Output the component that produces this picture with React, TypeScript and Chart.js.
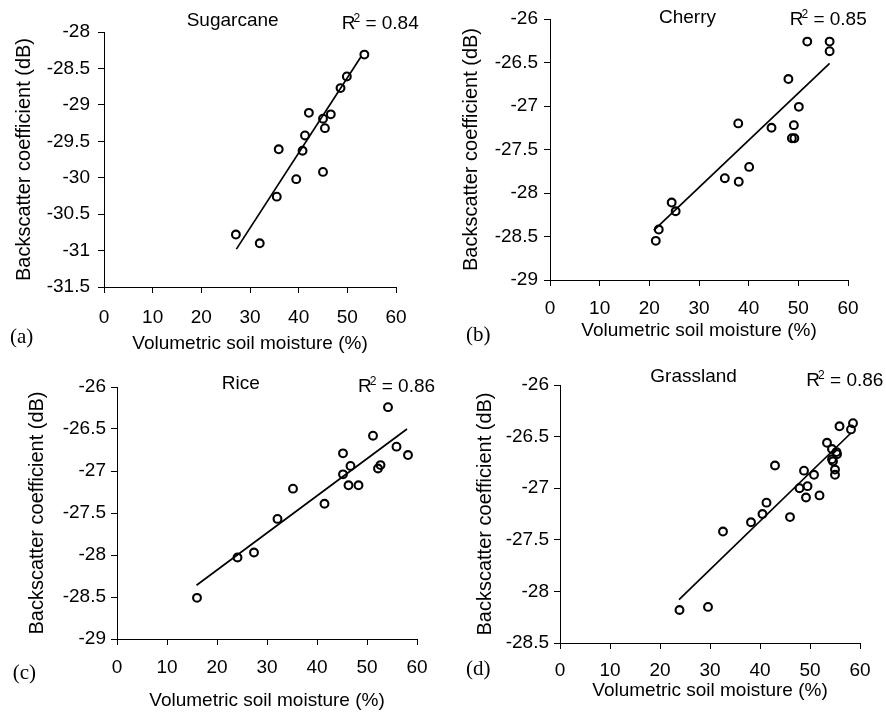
import React, { useEffect, useRef } from "react";
import { Chart, registerables } from "chart.js";

Chart.register(...registerables);

// ---------- data ----------
const sugarcaneX = [27.1, 32.0, 35.5, 35.9, 39.5, 40.8, 41.3, 42.1, 45.0, 45.4, 45.0, 46.6, 48.6, 49.9, 53.5];
const sugarcaneY = [-30.78, -30.9, -30.26, -29.61, -30.02, -29.63, -29.42, -29.11, -29.19, -29.32, -29.92, -29.13, -28.77, -28.61, -28.31];
const sugarcaneFitX = [27.2, 52.9];
const sugarcaneFitY = [-30.98, -28.33];

const cherryX = [21.3, 21.9, 24.5, 25.3, 35.2, 37.9, 38.0, 40.1, 44.6, 48.0, 48.7, 49.2, 49.1, 50.1, 51.8, 56.3, 56.3];
const cherryY = [-28.55, -28.42, -28.11, -28.21, -27.83, -27.2, -27.87, -27.7, -27.25, -26.69, -27.37, -27.37, -27.22, -27.01, -26.26, -26.26, -26.37];
const cherryFitX = [20.9, 56.3];
const cherryFitY = [-28.43, -26.51];

const riceX = [16.0, 24.1, 27.4, 32.1, 35.2, 41.5, 45.2, 45.2, 46.7, 46.3, 48.3, 51.2, 52.2, 52.7, 54.2, 55.9, 58.2];
const riceY = [-28.51, -28.03, -27.97, -27.57, -27.21, -27.39, -26.79, -27.04, -26.94, -27.17, -27.17, -26.58, -26.97, -26.93, -26.24, -26.71, -26.81];
const riceFitX = [15.9, 58.0];
const riceFitY = [-28.36, -26.5];

const grassX = [23.9, 29.6, 32.6, 38.2, 40.5, 41.3, 43.0, 46.0, 47.9, 48.8, 49.5, 49.2, 50.8, 51.9, 53.4, 54.4, 54.4, 54.6, 55.3, 55.4, 55.0, 55.0, 55.9, 58.2, 58.6];
const grassY = [-28.18, -28.15, -27.42, -27.33, -27.25, -27.14, -26.78, -27.28, -27.0, -26.83, -26.98, -27.09, -26.87, -27.07, -26.56, -26.62, -26.72, -26.74, -26.65, -26.67, -26.82, -26.87, -26.4, -26.43, -26.37];
const grassFitX = [23.8, 58.1];
const grassFitY = [-28.08, -26.47];

const cropNames = ["Sugarcane", "Cherry", "Rice", "Grassland"];
const r2Values = ["0.84", "0.85", "0.86", "0.86"];
const panelLetters = ["(a)", "(b)", "(c)", "(d)"];
const yMins = [-31.5, -29, -29, -28.5];
const yMaxs = [-28, -26, -26, -26];
const xMin = 0;
const xMax = 60;
const xStep = 10;
const yStep = 0.5;
const xTitle = "Volumetric soil moisture (%)";
const yTitle = "Backscatter coefficient (dB)";

const SANS = "'Liberation Sans', Arial, Helvetica, sans-serif";
const SERIF = "'Liberation Serif', 'Times New Roman', serif";

type Layout = {
  left: number; top: number; width: number; height: number;
  padTop: number; padRight: number; wy: number; hx: number;
  xTickPad: number; yTickPad: number;
};

const layouts: Layout[] = [
  { left: 12, top: 12, width: 409, height: 343, padTop: 20, padRight: 25, wy: 92, hx: 68, xTickPad: 12.9, yTickPad: 8 },
  { left: 459, top: 1, width: 414, height: 341, padTop: 18, padRight: 25, wy: 91, hx: 62, xTickPad: 11.8, yTickPad: 6 },
  { left: 25, top: 367, width: 417, height: 345, padTop: 20, padRight: 25, wy: 92, hx: 73, xTickPad: 10.9, yTickPad: 5 },
  { left: 473, top: 365, width: 412, height: 337, padTop: 20, padRight: 25, wy: 87, hx: 59, xTickPad: 10.3, yTickPad: 5 },
];

// text positions: [x, baseline]
const titlePos = [[186.7, 26], [659, 22.7], [221.7, 389], [650.3, 382]];
const r2Pos = [[341.7, 29.3], [789.7, 25], [358, 392], [806.3, 386]];
const letterPos = [[10, 343.7], [466, 342], [12.7, 679.4], [466, 676]];

const seriesX = [sugarcaneX, cherryX, riceX, grassX];
const seriesY = [sugarcaneY, cherryY, riceY, grassY];
const fitXs = [sugarcaneFitX, cherryFitX, riceFitX, grassFitX];
const fitYs = [sugarcaneFitY, cherryFitY, riceFitY, grassFitY];

function Panel({ idx }: { idx: number }) {
  const ref = useRef<HTMLCanvasElement>(null);
  const L = layouts[idx];
  useEffect(() => {
    const xs = seriesX[idx];
    const ys = seriesY[idx];
    const fx = fitXs[idx];
    const fy = fitYs[idx];
    const chart = new Chart(ref.current as HTMLCanvasElement, {
      type: "scatter",
      data: {
        datasets: [
          {
            data: xs.map((x, i) => ({ x, y: ys[i] })),
            showLine: false,
            pointRadius: 3.9,
            pointBorderWidth: 2.1,
            pointBorderColor: "#000",
            pointBackgroundColor: "rgba(0,0,0,0)",
            pointStyle: "circle",
          },
          {
            data: fx.map((x, i) => ({ x, y: fy[i] })),
            showLine: true,
            borderColor: "#000",
            borderWidth: 1.7,
            pointRadius: 0,
            fill: false,
          },
        ],
      },
      options: {
        responsive: false,
        animation: false,
        events: [],
        devicePixelRatio: 1,
        layout: { padding: { left: 0, top: L.padTop, right: L.padRight, bottom: 0 } },
        plugins: { legend: { display: false }, tooltip: { enabled: false } },
        scales: {
          x: {
            type: "linear",
            position: "bottom",
            min: xMin,
            max: xMax,
            afterFit: (s: any) => { s.height = L.hx; },
            ticks: {
              stepSize: xStep,
              padding: L.xTickPad,
              color: "#000",
              font: { family: SANS, size: 19 },
              maxRotation: 0,
              autoSkip: false,
              callback: (v: any) => String(v),
            },
            grid: { drawOnChartArea: false, drawTicks: true, tickLength: 6, color: "#000", lineWidth: 1 },
            border: { display: true, color: "#000", width: 1 },
            title: { display: true, text: xTitle, color: "#000", font: { family: SANS, size: 19 }, padding: { top: 0, bottom: 0 } },
          },
          y: {
            type: "linear",
            position: "left",
            min: yMins[idx],
            max: yMaxs[idx],
            afterFit: (s: any) => { s.width = L.wy; },
            ticks: {
              stepSize: yStep,
              padding: L.yTickPad,
              color: "#000",
              font: { family: SANS, size: 19 },
              autoSkip: false,
              callback: (v: any) => String(Math.round(Number(v) * 10) / 10),
            },
            grid: { drawOnChartArea: false, drawTicks: true, tickLength: 6, color: "#000", lineWidth: 1 },
            border: { display: true, color: "#000", width: 1 },
            title: { display: true, text: yTitle, color: "#000", font: { family: SANS, size: 20 }, padding: { top: 0, bottom: 0 } },
          },
        },
      } as any,
    });
    return () => chart.destroy();
  }, [idx]);
  return (
    <canvas
      ref={ref}
      width={L.width}
      height={L.height}
      style={{ position: "absolute", left: L.left, top: L.top, width: L.width, height: L.height }}
    />
  );
}

function Txt({ x, base, size, family, children }: { x: number; base: number; size: number; family: string; children: any }) {
  const k = family === SERIF ? 0.8375 : 0.8465;
  return (
    <div
      style={{
        position: "absolute",
        left: x,
        top: base - k * size,
        fontSize: size,
        lineHeight: size + "px",
        fontFamily: family,
        whiteSpace: "nowrap",
        color: "#000",
      }}
    >
      {children}
    </div>
  );
}

export default function App() {
  return (
    <div style={{ position: "absolute", left: 0, top: 0, width: 886, height: 718, background: "#fff", overflow: "hidden" }}>
      {[0, 1, 2, 3].map((i) => (
        <Panel key={"p" + i} idx={i} />
      ))}
      {[0, 1, 2, 3].map((i) => (
        <React.Fragment key={"t" + i}>
          <Txt x={titlePos[i][0]} base={titlePos[i][1]} size={19} family={SANS}>{cropNames[i]}</Txt>
          <Txt x={r2Pos[i][0]} base={r2Pos[i][1]} size={19} family={SANS}>
            R<span style={{ fontSize: 12, lineHeight: "0px", position: "relative", top: -7, marginLeft: -2 }}>2</span> = {r2Values[i]}
          </Txt>
          <Txt x={letterPos[i][0]} base={letterPos[i][1]} size={21} family={SERIF}>{panelLetters[i]}</Txt>
        </React.Fragment>
      ))}
    </div>
  );
}
